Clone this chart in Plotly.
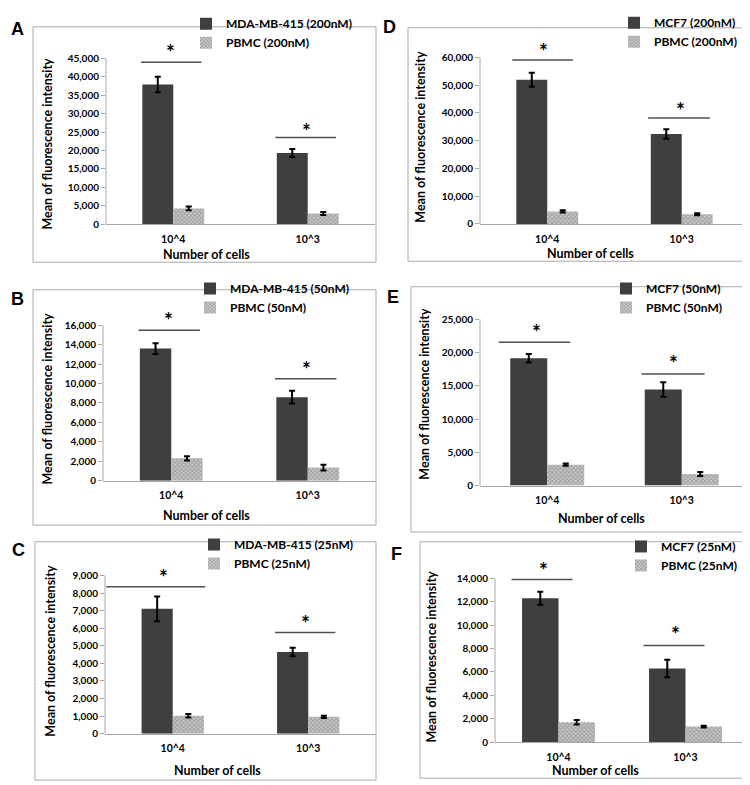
import plotly.graph_objects as go

W, H = 750, 785

# ---------------- data ----------------
categories = ["10^4", "10^3"]
panel_letters = ["A", "B", "C", "D", "E", "F"]

cancer_names = ["MDA-MB-415 (200nM)", "MDA-MB-415 (50nM)", "MDA-MB-415 (25nM)",
                "MCF7 (200nM)", "MCF7 (50nM)", "MCF7 (25nM)"]
pbmc_names = ["PBMC (200nM)", "PBMC (50nM)", "PBMC (25nM)",
              "PBMC (200nM)", "PBMC (50nM)", "PBMC (25nM)"]

cancer_A = [37900, 19300]; cancer_A_err = [2100, 1100]
pbmc_A = [4300, 2900];     pbmc_A_err = [500, 400]
cancer_B = [13600, 8600];  cancer_B_err = [550, 650]
pbmc_B = [2300, 1350];     pbmc_B_err = [220, 300]
cancer_C = [7100, 4650];   cancer_C_err = [700, 240]
pbmc_C = [1020, 960];      pbmc_C_err = [100, 60]
cancer_D = [51900, 32400]; cancer_D_err = [2500, 1700]
pbmc_D = [4500, 3500];     pbmc_D_err = [400, 400]
cancer_E = [19150, 14450]; cancer_E_err = [650, 1080]
pbmc_E = [3150, 1750];     pbmc_E_err = [170, 300]
cancer_F = [12300, 6300];  cancer_F_err = [550, 750]
pbmc_F = [1700, 1330];     pbmc_F_err = [200, 70]

# significance bar heights and star heights (data units)
sig_A = [43900, 23500]; star_A = [46800, 25500]
sig_B = [15500, 10500]; star_B = [16600, 11600]
sig_C = [8350, 5750];   star_C = [8950, 6350]
sig_D = [59000, 38100]; star_D = [62300, 41200]
sig_E = [21550, 16800]; star_E = [23200, 18450]
sig_F = [13900, 8270];  star_F = [14750, 9250]

y_tick_top = [45000, 16000, 9000, 60000, 25000, 14000]
y_tick_step = [5000, 2000, 1000, 10000, 5000, 2000]

cancer = [cancer_A, cancer_B, cancer_C, cancer_D, cancer_E, cancer_F]
cancer_err = [cancer_A_err, cancer_B_err, cancer_C_err, cancer_D_err, cancer_E_err, cancer_F_err]
pbmc = [pbmc_A, pbmc_B, pbmc_C, pbmc_D, pbmc_E, pbmc_F]
pbmc_err = [pbmc_A_err, pbmc_B_err, pbmc_C_err, pbmc_D_err, pbmc_E_err, pbmc_F_err]
sig = [sig_A, sig_B, sig_C, sig_D, sig_E, sig_F]
star = [star_A, star_B, star_C, star_D, star_E, star_F]

# ---------------- layout geometry (pixels) ----------------
# plot area: x left, x right, y of zero, y of top tick
plot_px = [
    (98, 367, 211.3, 42.0),
    (95, 368, 472.7, 314.3),
    (97, 368, 730.7, 569.3),
    (472, 741, 211.0, 41.0),
    (472, 741, 477.7, 308.3),
    (487, 741, 739.3, 572.3),
]
box_px = [(25, 10, 368, 250), (25, 278, 368, 518), (27, 535, 368, 778),
          (400, 11, 742, 249), (403, 275, 741, 525), (412, 535, 742, 776)]
letter_px = [(9, 12), (9, 288), (10, 543), (381, 10), (385, 285), (388, 547)]
legend_px = [(178, -8), (182, 262), (186, 523), (606, -9), (598, 262), (613, 525)]
ytitle_px = [(40, 129), (40, 389), (43, 646), (413, 122), (417, 384), (424, 652)]
xtitle_px = [(198, 242), (199, 508), (209, 768), (582, 241), (593, 511), (587, 768)]
bar_w = [0.23, 0.23, 0.23, 0.23, 0.275, 0.287]
sig_span = [
    [(-0.24, 0.21), (-0.24, 0.21)],
    [(-0.24, 0.21), (-0.24, 0.21)],
    [(-0.49, 0.24), (-0.245, 0.20)],
    [(-0.26, 0.19), (-0.25, 0.21)],
    [(-0.36, 0.17), (-0.30, 0.17)],
    [(-0.37, 0.11), (-0.33, 0.15)],
]
star_dx = [[-0.02, -0.01], [-0.02, -0.01], [-0.07, -0.02],
           [-0.03, -0.01], [-0.08, -0.06], [-0.12, -0.08]]

EXT = 1.10
FONT = "Lato"
DARK = "#3f3f3f"
AXCOL = "#a6a6a6"

fig = go.Figure()
shapes = []
annotations = []
layout_kw = {}

for i in range(6):
    n = "" if i == 0 else str(i + 1)
    xa, ya = "x" + n, "y" + n
    leg = "legend" + n
    xl, xr, y0, yt = plot_px[i]
    top = y_tick_top[i]
    ppu = (y0 - yt) / top
    top_px = y0 - top * EXT * ppu
    w = bar_w[i]

    fig.add_trace(go.Bar(
        x=categories, y=cancer[i], name=cancer_names[i], xaxis=xa, yaxis=ya,
        width=w, offset=-w, marker=dict(color=DARK, line=dict(width=0)),
        error_y=dict(type="data", array=cancer_err[i], color="black", thickness=2, width=3),
        legend=leg,
    ))
    fig.add_trace(go.Bar(
        x=categories, y=pbmc[i], name=pbmc_names[i], xaxis=xa, yaxis=ya,
        width=w, offset=0,
        marker=dict(color="#a8a8a8", line=dict(width=0),
                    pattern=dict(shape="x", size=3, solidity=0.5,
                                 fgcolor="#6e6e6e", bgcolor="#cacaca")),
        error_y=dict(type="data", array=pbmc_err[i], color="black", thickness=2, width=3),
        legend=leg,
    ))

    tickvals = list(range(0, top + 1, y_tick_step[i]))
    layout_kw["xaxis" + n] = dict(
        domain=[xl / W, xr / W], anchor=ya, type="category", range=[-0.5, 1.5],
        showline=True, linecolor=AXCOL, linewidth=1, ticks="", showgrid=False,
        ticklabelstandoff=5,
        tickfont=dict(family=FONT, size=10.5, color="black", weight="bold"),
        fixedrange=True,
    )
    layout_kw["yaxis" + n] = dict(
        domain=[1 - y0 / H, 1 - top_px / H], anchor=xa, range=[0, top * EXT],
        tickvals=tickvals, tickformat=",d", showline=False, showgrid=False,
        zeroline=False, ticks="outside", ticklen=4, tickcolor=AXCOL,
        tickfont=dict(family=FONT, size=10, color="black", weight="bold"),
        fixedrange=True,
    )
    lx, ly = legend_px[i]
    layout_kw[leg] = dict(
        x=lx / W, y=1 - ly / H, xanchor="left", yanchor="top",
        bgcolor="rgba(0,0,0,0)", borderwidth=0,
        font=dict(family=FONT, size=12, color="black", weight="bold"),
        itemclick=False, itemdoubleclick=False,
    )

    # y axis line up to top tick
    shapes.append(dict(type="line", xref=xa + " domain", yref=ya, x0=0, x1=0,
                       y0=0, y1=top, line=dict(color=AXCOL, width=1)))
    # significance lines + stars
    for c in range(2):
        a, b = sig_span[i][c]
        shapes.append(dict(type="line", xref=xa, yref=ya, x0=c + a, x1=c + b,
                           y0=sig[i][c], y1=sig[i][c],
                           line=dict(color="#505050", width=1.5)))
        annotations.append(dict(xref=xa, yref=ya, x=c + star_dx[i][c], y=star[i][c],
                                text="*", showarrow=False, xanchor="center",
                                yanchor="middle",
                                font=dict(family=FONT, size=21, color="black",
                                          weight="bold")))
    # panel border
    bx0, by0, bx1, by1 = box_px[i]
    shapes.append(dict(type="rect", xref="paper", yref="paper",
                       x0=bx0 / W, x1=bx1 / W, y0=1 - by1 / H, y1=1 - by0 / H,
                       line=dict(color="#a8a8a8", width=1), fillcolor="rgba(0,0,0,0)",
                       layer="below"))
    # panel letter
    px, py = letter_px[i]
    annotations.append(dict(xref="paper", yref="paper", x=px / W, y=1 - py / H,
                            text=panel_letters[i], showarrow=False,
                            xanchor="center", yanchor="middle",
                            font=dict(family="Liberation Sans", size=18,
                                      color="black", weight="bold")))
    # axis titles
    tx, ty = ytitle_px[i]
    annotations.append(dict(xref="paper", yref="paper", x=tx / W, y=1 - ty / H,
                            text="Mean of fluorescence intensity", showarrow=False,
                            textangle=-90, xanchor="center", yanchor="middle",
                            font=dict(family=FONT, size=12.5, color="black",
                                      weight="bold")))
    tx, ty = xtitle_px[i]
    annotations.append(dict(xref="paper", yref="paper", x=tx / W, y=1 - ty / H,
                            text="Number of cells", showarrow=False,
                            xanchor="center", yanchor="middle",
                            font=dict(family=FONT, size=12.5, color="black",
                                      weight="bold")))

fig.update_layout(
    width=W, height=H, margin=dict(l=0, r=0, t=0, b=0),
    paper_bgcolor="white", plot_bgcolor="white",
    barmode="overlay", showlegend=True,
    shapes=shapes, annotations=annotations,
    **layout_kw,
)

fig.write_html("out.html")
